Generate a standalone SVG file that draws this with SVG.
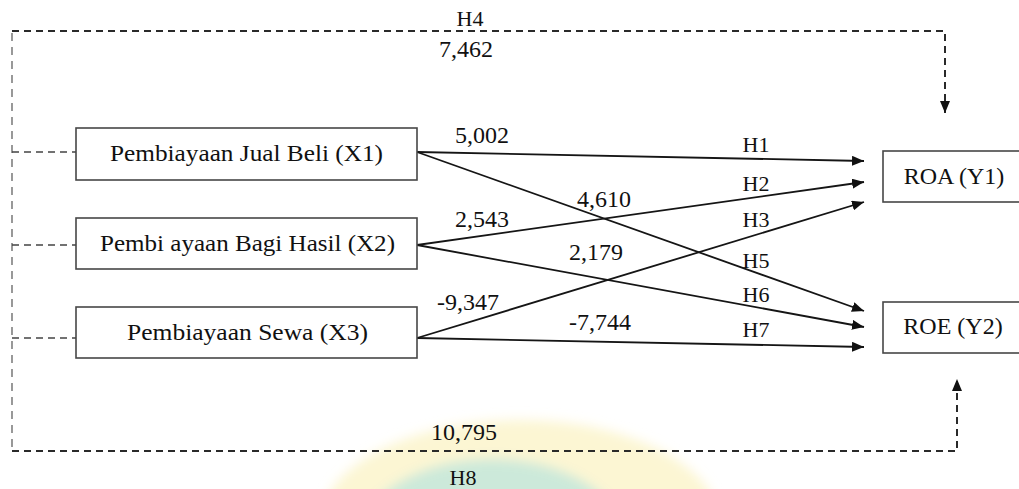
<svg xmlns="http://www.w3.org/2000/svg" width="1019" height="489" viewBox="0 0 1019 489">
  <style>
    .box { fill: #ffffff; stroke: #474747; stroke-width: 1.6; }
    .path { fill: none; stroke: #151515; stroke-width: 1.8; }
    .bus { fill: none; stroke: #2a2a2a; stroke-width: 2; stroke-dasharray: 7 5; }
    .bus-thin { fill: none; stroke: #555555; stroke-width: 1.2; stroke-dasharray: 8 6; }
    .stub { fill: none; stroke: #444444; stroke-width: 1.6; stroke-dasharray: 7 5; }
  </style>
  <defs>
    <marker id="head" viewBox="0 0 12 10" refX="12" refY="5" markerWidth="12" markerHeight="10" markerUnits="userSpaceOnUse" orient="auto">
      <path d="M0,0 L12,5 L0,10 Z" fill="#111111"/>
    </marker>
    <filter id="soft" x="-20%" y="-20%" width="140%" height="140%">
      <feGaussianBlur stdDeviation="6"/>
    </filter>
  </defs>

  <!-- faint emblem in the background -->
  <g id="emblem" filter="url(#soft)">
    <ellipse cx="520" cy="525" rx="200" ry="105" fill="#fbf4c8" opacity="0.8"/>
    <ellipse cx="492" cy="545" rx="135" ry="86" fill="#c6e8da" opacity="0.9"/>
  </g>

  <!-- connectors -->
  <g id="connectors">
    <!-- shared moderating bus on the left -->
    <path class="bus-thin" d="M12,33 L12,451"/>
    <path class="bus" d="M12,31 L945,31 L945,113" marker-end="url(#head)"/>
    <path class="bus" d="M12,451 L957,451 L957,379" marker-end="url(#head)"/>
    <path class="stub" d="M12,152 L76,152"/>
    <path class="stub" d="M12,245 L76,245"/>
    <path class="stub" d="M12,338 L76,338"/>

    <!-- direct paths -->
    <line class="path" x1="417" y1="152" x2="864" y2="161" marker-end="url(#head)"/>
    <line class="path" x1="417" y1="152" x2="864" y2="311" marker-end="url(#head)"/>
    <line class="path" x1="417" y1="245" x2="864" y2="182" marker-end="url(#head)"/>
    <line class="path" x1="417" y1="245" x2="864" y2="327" marker-end="url(#head)"/>
    <line class="path" x1="417" y1="338" x2="864" y2="202" marker-end="url(#head)"/>
    <line class="path" x1="417" y1="338" x2="864" y2="347" marker-end="url(#head)"/>
  </g>

  <!-- path coefficients and hypothesis labels -->
  <g id="labels" font-family="Liberation Serif" font-size="24" fill="#111111" text-anchor="middle">
    <text x="470" y="26" font-size="22">H4</text>
    <text x="466" y="57">7,462</text>
    <text x="482" y="143">5,002</text>
    <text x="482" y="227">2,543</text>
    <text x="468" y="310">-9,347</text>
    <text x="604" y="207">4,610</text>
    <text x="596" y="260">2,179</text>
    <text x="600" y="330">-7,744</text>
    <text x="756" y="152" font-size="22">H1</text>
    <text x="756" y="191" font-size="22">H2</text>
    <text x="756" y="227" font-size="22">H3</text>
    <text x="756" y="268" font-size="22">H5</text>
    <text x="756" y="302" font-size="22">H6</text>
    <text x="756" y="337" font-size="22">H7</text>
    <text x="464" y="440">10,795</text>
    <text x="463" y="485" font-size="22">H8</text>
  </g>

  <g id="x1" font-family="Liberation Serif" font-size="24" fill="#111111" text-anchor="middle">
    <rect class="box" x="76" y="128" width="341" height="52"/>
    <text x="246.5" y="161" textLength="273" lengthAdjust="spacingAndGlyphs">Pembiayaan Jual Beli (X1)</text>
  </g>
  <g id="x2" font-family="Liberation Serif" font-size="24" fill="#111111" text-anchor="middle">
    <rect class="box" x="76" y="218" width="341" height="51"/>
    <text x="247.5" y="251" textLength="295" lengthAdjust="spacingAndGlyphs">Pembi ayaan Bagi Hasil (X2)</text>
  </g>
  <g id="x3" font-family="Liberation Serif" font-size="24" fill="#111111" text-anchor="middle">
    <rect class="box" x="76" y="307" width="341" height="51"/>
    <text x="247.5" y="340" textLength="241" lengthAdjust="spacingAndGlyphs">Pembiayaan Sewa (X3)</text>
  </g>
  <g id="y1" font-family="Liberation Serif" font-size="24" fill="#111111" text-anchor="middle">
    <rect class="box" x="883" y="151" width="140" height="51"/>
    <text x="954" y="184">ROA (Y1)</text>
  </g>
  <g id="y2" font-family="Liberation Serif" font-size="24" fill="#111111" text-anchor="middle">
    <rect class="box" x="883" y="302" width="140" height="51"/>
    <text x="953" y="334">ROE (Y2)</text>
  </g>
</svg>
